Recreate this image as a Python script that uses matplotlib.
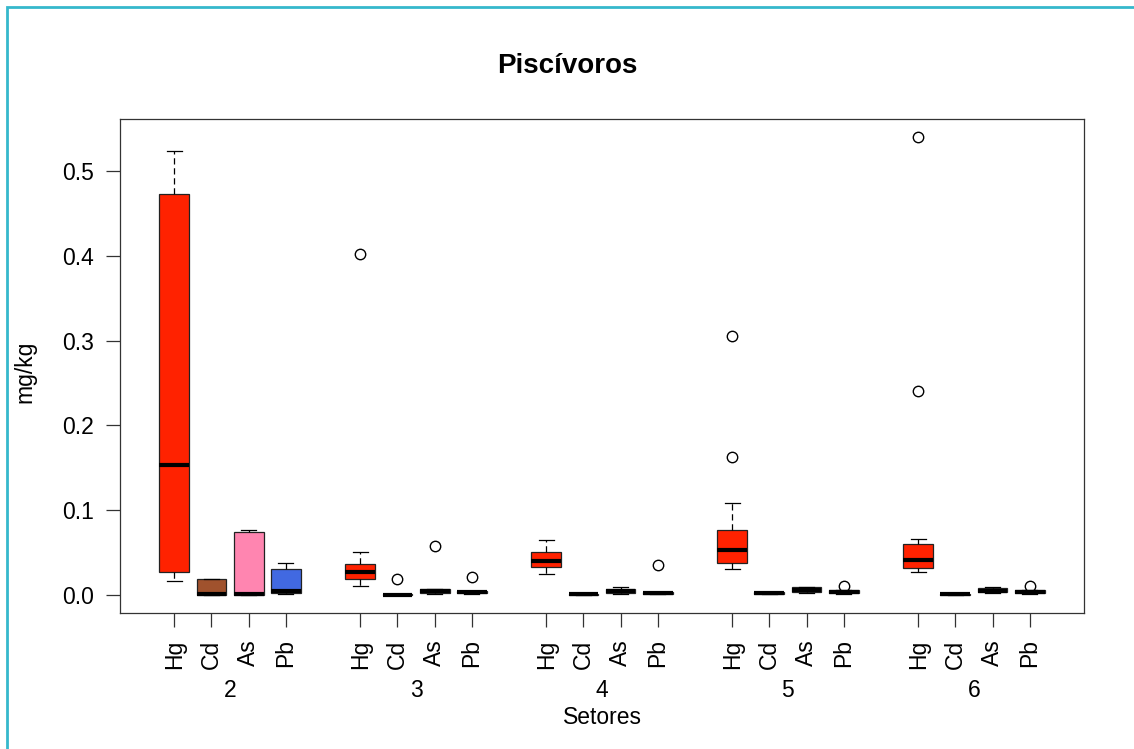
import matplotlib
matplotlib.use("Agg")
import matplotlib.pyplot as plt
import matplotlib.patches as mpatches
import matplotlib.transforms as mtransforms

plt.rcParams['font.family'] = ['Liberation Sans', 'DejaVu Sans']

# data: (whisker low, q1, median, q3, whisker high) per sector
setores = ['2', '3', '4', '5', '6']
metais = ['Hg', 'Cd', 'As', 'Pb']
cores = ['#FF2200', '#A0522D', '#FF85B0', '#4169E1']

hg = [(0.016, 0.027, 0.153, 0.473, 0.524),
      (0.010, 0.018, 0.027, 0.036, 0.051),
      (0.024, 0.033, 0.040, 0.050, 0.064),
      (0.030, 0.038, 0.053, 0.076, 0.108),
      (0.027, 0.031, 0.041, 0.060, 0.066)]
hg_out = [[], [0.402], [], [0.305, 0.162], [0.540, 0.240]]

cd = [(0.0, 0.0, 0.0005, 0.019, 0.019),
      (0.0, 0.0, 0.0, 0.001, 0.001),
      (0.0, 0.0, 0.0005, 0.001, 0.001),
      (0.001, 0.001, 0.002, 0.003, 0.003),
      (0.0, 0.0, 0.0005, 0.001, 0.001)]
cd_out = [[], [0.018], [], [], []]

as_ = [(0.0, 0.0, 0.001, 0.074, 0.076),
       (0.001, 0.002, 0.004, 0.007, 0.007),
       (0.001, 0.002, 0.004, 0.007, 0.009),
       (0.002, 0.003, 0.005, 0.009, 0.009),
       (0.002, 0.003, 0.004, 0.008, 0.009)]
as_out = [[], [0.058], [], [], []]

pb = [(0.001, 0.002, 0.004, 0.030, 0.038),
      (0.001, 0.002, 0.003, 0.004, 0.004),
      (0.001, 0.001, 0.002, 0.003, 0.003),
      (0.001, 0.002, 0.003, 0.005, 0.005),
      (0.001, 0.002, 0.003, 0.005, 0.005)]
pb_out = [[], [0.021], [0.035], [0.010], [0.010]]

series = [(hg, hg_out), (cd, cd_out), (as_, as_out), (pb, pb_out)]

# build stats for bxp, grouped by sector with a gap between groups
stats, posicoes, face, rotulos = [], [], [], []
for g in range(len(setores)):
    for m, (vals, outs) in enumerate(series):
        lo, q1, med, q3, hi = vals[g]
        stats.append({'whislo': lo, 'q1': q1, 'med': med, 'q3': q3,
                      'whishi': hi, 'fliers': outs[g]})
        posicoes.append(1 + 5 * g + m)
        face.append(cores[m])
        rotulos.append(metais[m])

fig = plt.figure(figsize=(11.34, 7.49), dpi=100)
ax = fig.add_axes([120 / 1134, 136 / 749, 964 / 1134, 494 / 749])

bp = ax.bxp(stats, positions=posicoes, widths=0.8, capwidths=0.4,
            patch_artist=True, showfliers=True,
            boxprops=dict(edgecolor='#222222', linewidth=0.9),
            whiskerprops=dict(color='black', linestyle=(0, (5, 3)), linewidth=0.9),
            capprops=dict(color='black', linewidth=0.9),
            medianprops=dict(color='black', linewidth=3, solid_capstyle='butt'),
            flierprops=dict(marker='o', markerfacecolor='none',
                            markeredgecolor='black', markersize=7.5,
                            markeredgewidth=1.0))
for patch, c in zip(bp['boxes'], face):
    patch.set_facecolor(c)

fs = 16.5
ax.set_xlim(-0.46, 25.46)
ax.set_ylim(-0.0216, 0.5616)
ax.set_xticks(posicoes)
ax.set_xticklabels(rotulos, rotation=90, fontsize=fs)
ax.set_yticks([0.0, 0.1, 0.2, 0.3, 0.4, 0.5])
ax.set_yticklabels(['0.0', '0.1', '0.2', '0.3', '0.4', '0.5'], fontsize=fs)
ax.tick_params(direction='out', length=10, width=0.9, pad=9, color='#333333')
for s in ax.spines.values():
    s.set_color('#333333')
    s.set_linewidth(0.9)

# sector labels under each group
trans = mtransforms.blended_transform_factory(ax.transData, ax.transAxes)
for g, nome in enumerate(setores):
    ax.text(2.5 + 5 * g, -0.156, nome, transform=trans, ha='center',
            va='center', fontsize=fs)

ax.text(0.5, -0.211, 'Setores', transform=ax.transAxes, ha='center',
        va='center', fontsize=fs)
fig.text(25 / 1134, 1 - 372 / 749, 'mg/kg', rotation=90, ha='center',
         va='center', fontsize=fs)
fig.text(0.5, 1 - 66 / 749, 'Piscívoros', ha='center', va='center',
         fontsize=20, fontweight='bold')

# teal frame around the screenshot
fig.patches.append(mpatches.Rectangle((7 / 1134, -0.1), 1.2, 1 - 7 / 749 + 0.1,
                                      transform=fig.transFigure, fill=False,
                                      edgecolor='#35B8CC', linewidth=2))

fig.savefig('out.png', dpi=100)
